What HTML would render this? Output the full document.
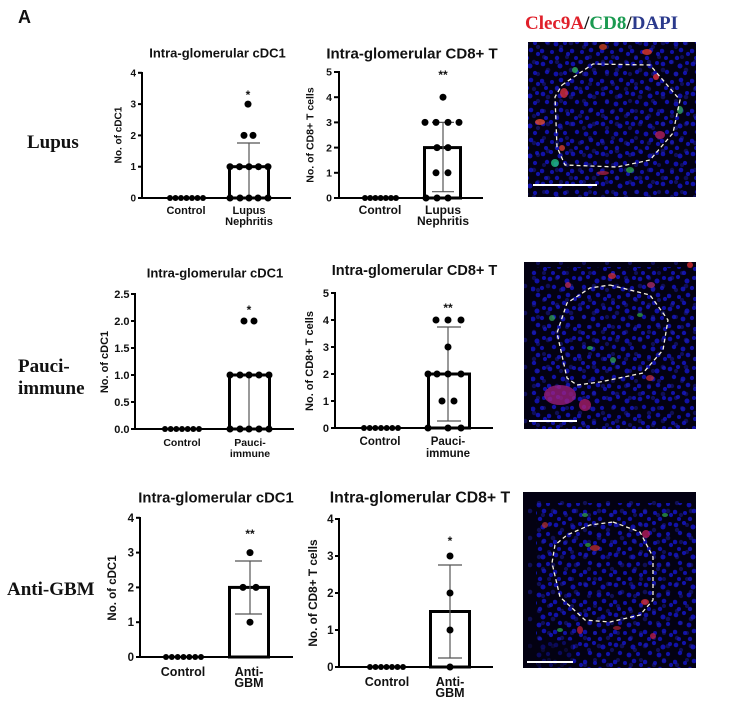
<!DOCTYPE html>
<html><head><meta charset="utf-8"><style>
html,body{margin:0;padding:0;background:#fff;}
svg{display:block;}
.t{font-family:"Liberation Sans",Arial,sans-serif;font-weight:bold;fill:#111;}
.s{font-family:"Liberation Serif","Times New Roman",serif;font-weight:bold;}
</style></head><body>
<svg width="744" height="703" viewBox="0 0 744 703" xmlns="http://www.w3.org/2000/svg">
<defs>
<pattern id="nA" width="30" height="30" patternUnits="userSpaceOnUse">
<g fill="#1414c4">
<circle cx="3" cy="4" r="2.3"/><circle cx="11" cy="2" r="2.1"/><circle cx="20" cy="6" r="2.5"/><circle cx="27" cy="3" r="2"/>
<circle cx="7" cy="12" r="2.2"/><circle cx="16" cy="14" r="2.4"/><circle cx="25" cy="13" r="2.1"/><circle cx="2" cy="21" r="2.3"/>
<circle cx="12" cy="22" r="2"/><circle cx="21" cy="20" r="2.3"/><circle cx="28" cy="24" r="2.1"/><circle cx="6" cy="28" r="2"/><circle cx="17" cy="28" r="2.2"/>
</g></pattern>
<pattern id="nB" width="23" height="27" patternUnits="userSpaceOnUse">
<g fill="#2020a8">
<circle cx="5" cy="8" r="2.2"/><circle cx="15" cy="3" r="2"/><circle cx="19" cy="16" r="2.3"/><circle cx="9" cy="20" r="2.1"/>
</g></pattern>
<clipPath id="c1"><rect x="528" y="42" width="168" height="155"/></clipPath>
<clipPath id="c2"><rect x="524" y="262" width="172" height="167"/></clipPath>
<clipPath id="c3"><rect x="523" y="492" width="173" height="176"/></clipPath>
</defs>

<!-- headings -->
<text class="t" x="18" y="23" font-size="18">A</text>
<text class="s" x="525" y="29" font-size="19"><tspan fill="#e0202a">Clec9A</tspan><tspan fill="#111">/</tspan><tspan fill="#1a9a50">CD8</tspan><tspan fill="#111">/</tspan><tspan fill="#2b3a8c">DAPI</tspan></text>
<text class="s" x="27" y="148" font-size="19" fill="#111">Lupus</text>
<text class="s" x="18" y="372" font-size="19" fill="#111">Pauci-</text>
<text class="s" x="18" y="394" font-size="19" fill="#111">immune</text>
<text class="s" x="7" y="595" font-size="19" fill="#111">Anti-GBM</text>

<!-- ========== Chart 1 ========== -->
<text class="t" x="217.5" y="57.7" font-size="13" text-anchor="middle">Intra-glomerular cDC1</text>
<text class="t" font-size="10" text-anchor="middle" transform="translate(121.5,135) rotate(-90)">No. of cDC1</text>
<g stroke="#000" stroke-width="2">
<line x1="142" y1="72" x2="142" y2="199"/><line x1="141" y1="198" x2="291" y2="198"/>
<line x1="138" y1="72.8" x2="142" y2="72.8"/><line x1="138" y1="104.1" x2="142" y2="104.1"/><line x1="138" y1="135.4" x2="142" y2="135.4"/><line x1="138" y1="166.7" x2="142" y2="166.7"/><line x1="138" y1="198" x2="142" y2="198"/>
</g>
<g class="t" font-size="10" text-anchor="end">
<text x="136" y="76.3">4</text><text x="136" y="107.6">3</text><text x="136" y="138.9">2</text><text x="136" y="170.2">1</text><text x="136" y="201.5">0</text>
</g>
<rect x="229.5" y="166.7" width="39" height="31.3" fill="none" stroke="#000" stroke-width="3"/>
<g stroke="#555" stroke-width="1.2"><line x1="249" y1="143" x2="249" y2="198"/><line x1="237" y1="143" x2="260" y2="143"/></g>
<g fill="#000">
<circle cx="248" cy="104.1" r="3.5"/><circle cx="244" cy="135.4" r="3.5"/><circle cx="253" cy="135.4" r="3.5"/>
<circle cx="230" cy="166.7" r="3.5"/><circle cx="239.5" cy="166.7" r="3.5"/><circle cx="249" cy="166.7" r="3.5"/><circle cx="258.5" cy="166.7" r="3.5"/><circle cx="268" cy="166.7" r="3.5"/>
<circle cx="230" cy="198" r="3.5"/><circle cx="240" cy="198" r="3.5"/><circle cx="249" cy="198" r="3.5"/><circle cx="258" cy="198" r="3.5"/><circle cx="268" cy="198" r="3.5"/>
<circle cx="170" cy="198" r="3"/><circle cx="175.5" cy="198" r="3"/><circle cx="181" cy="198" r="3"/><circle cx="186.5" cy="198" r="3"/><circle cx="192" cy="198" r="3"/><circle cx="197.5" cy="198" r="3"/><circle cx="203" cy="198" r="3"/>
</g>
<text class="t" x="248" y="99" font-size="12" text-anchor="middle">*</text>
<g class="t" font-size="11" text-anchor="middle">
<text x="186" y="214">Control</text><text x="249" y="214">Lupus</text><text x="249" y="225">Nephritis</text>
</g>

<!-- ========== Chart 2 ========== -->
<text class="t" x="412" y="58.4" font-size="15" text-anchor="middle">Intra-glomerular CD8+ T</text>
<text class="t" font-size="10.5" text-anchor="middle" transform="translate(313.5,135) rotate(-90)">No. of CD8+ T cells</text>
<g stroke="#000" stroke-width="2">
<line x1="339" y1="71" x2="339" y2="199"/><line x1="338" y1="198" x2="483" y2="198"/>
<line x1="334" y1="72" x2="339" y2="72"/><line x1="334" y1="97.2" x2="339" y2="97.2"/><line x1="334" y1="122.4" x2="339" y2="122.4"/><line x1="334" y1="147.6" x2="339" y2="147.6"/><line x1="334" y1="172.8" x2="339" y2="172.8"/><line x1="334" y1="198" x2="339" y2="198"/>
</g>
<g class="t" font-size="10.5" text-anchor="end">
<text x="332" y="75.7">5</text><text x="332" y="100.9">4</text><text x="332" y="126.1">3</text><text x="332" y="151.3">2</text><text x="332" y="176.5">1</text><text x="332" y="201.7">0</text>
</g>
<rect x="424.5" y="147.6" width="36" height="50.4" fill="none" stroke="#000" stroke-width="3"/>
<g stroke="#555" stroke-width="1.2"><line x1="443" y1="122.4" x2="443" y2="191.7"/><line x1="432" y1="122.4" x2="454" y2="122.4"/><line x1="432" y1="191.7" x2="454" y2="191.7"/></g>
<g fill="#000">
<circle cx="443" cy="97.2" r="3.5"/>
<circle cx="425" cy="122.4" r="3.5"/><circle cx="436" cy="122.4" r="3.5"/><circle cx="448" cy="122.4" r="3.5"/><circle cx="459" cy="122.4" r="3.5"/>
<circle cx="437" cy="147.6" r="3.5"/><circle cx="448" cy="147.6" r="3.5"/>
<circle cx="436" cy="172.8" r="3.5"/><circle cx="448" cy="172.8" r="3.5"/>
<circle cx="426" cy="198" r="3.5"/><circle cx="437" cy="198" r="3.5"/><circle cx="448" cy="198" r="3.5"/>
<circle cx="365" cy="198" r="3"/><circle cx="370.2" cy="198" r="3"/><circle cx="375.4" cy="198" r="3"/><circle cx="380.6" cy="198" r="3"/><circle cx="385.8" cy="198" r="3"/><circle cx="391" cy="198" r="3"/><circle cx="396" cy="198" r="3"/>
</g>
<text class="t" x="443" y="79" font-size="12" text-anchor="middle">**</text>
<g class="t" font-size="12" text-anchor="middle">
<text x="380" y="214">Control</text><text x="443" y="214">Lupus</text><text x="443" y="225">Nephritis</text>
</g>

<!-- ========== Chart 3 ========== -->
<text class="t" x="215" y="277.7" font-size="13" text-anchor="middle">Intra-glomerular cDC1</text>
<text class="t" font-size="11" text-anchor="middle" transform="translate(108,362) rotate(-90)">No. of cDC1</text>
<g stroke="#000" stroke-width="2">
<line x1="135" y1="293" x2="135" y2="430"/><line x1="134" y1="429" x2="294" y2="429"/>
<line x1="131" y1="294" x2="135" y2="294"/><line x1="131" y1="321" x2="135" y2="321"/><line x1="131" y1="348" x2="135" y2="348"/><line x1="131" y1="375" x2="135" y2="375"/><line x1="131" y1="402" x2="135" y2="402"/><line x1="131" y1="429" x2="135" y2="429"/>
</g>
<g class="t" font-size="11" text-anchor="end">
<text x="129.5" y="297.8">2.5</text><text x="129.5" y="324.8">2.0</text><text x="129.5" y="351.8">1.5</text><text x="129.5" y="378.8">1.0</text><text x="129.5" y="405.8">0.5</text><text x="129.5" y="432.8">0.0</text>
</g>
<rect x="229.5" y="375" width="40" height="54" fill="none" stroke="#000" stroke-width="3"/>
<g stroke="#555" stroke-width="1.2"><line x1="249" y1="375" x2="249" y2="429"/></g>
<g fill="#000">
<circle cx="244" cy="321" r="3.5"/><circle cx="254" cy="321" r="3.5"/>
<circle cx="230" cy="375" r="3.5"/><circle cx="240" cy="375" r="3.5"/><circle cx="249" cy="375" r="3.5"/><circle cx="259" cy="375" r="3.5"/><circle cx="269" cy="375" r="3.5"/>
<circle cx="230" cy="429" r="3.5"/><circle cx="240" cy="429" r="3.5"/><circle cx="249" cy="429" r="3.5"/><circle cx="259" cy="429" r="3.5"/><circle cx="269" cy="429" r="3.5"/>
<circle cx="165" cy="429" r="3"/><circle cx="170.7" cy="429" r="3"/><circle cx="176.3" cy="429" r="3"/><circle cx="182" cy="429" r="3"/><circle cx="187.7" cy="429" r="3"/><circle cx="193.3" cy="429" r="3"/><circle cx="199" cy="429" r="3"/>
</g>
<text class="t" x="249" y="314" font-size="12" text-anchor="middle">*</text>
<g class="t" font-size="10.5" text-anchor="middle">
<text x="182" y="446">Control</text><text x="250" y="446">Pauci-</text><text x="250" y="457">immune</text>
</g>

<!-- ========== Chart 4 ========== -->
<text class="t" x="414.5" y="275.2" font-size="14.5" text-anchor="middle">Intra-glomerular CD8+ T</text>
<text class="t" font-size="11" text-anchor="middle" transform="translate(313,361) rotate(-90)">No. of CD8+ T cells</text>
<g stroke="#000" stroke-width="2">
<line x1="335" y1="292" x2="335" y2="429"/><line x1="334" y1="428" x2="493" y2="428"/>
<line x1="331" y1="293" x2="335" y2="293"/><line x1="331" y1="320" x2="335" y2="320"/><line x1="331" y1="347" x2="335" y2="347"/><line x1="331" y1="374" x2="335" y2="374"/><line x1="331" y1="401" x2="335" y2="401"/><line x1="331" y1="428" x2="335" y2="428"/>
</g>
<g class="t" font-size="11" text-anchor="end">
<text x="329" y="296.8">5</text><text x="329" y="323.8">4</text><text x="329" y="350.8">3</text><text x="329" y="377.8">2</text><text x="329" y="404.8">1</text><text x="329" y="431.8">0</text>
</g>
<rect x="428.5" y="374" width="41" height="54" fill="none" stroke="#000" stroke-width="3"/>
<g stroke="#555" stroke-width="1.2"><line x1="448" y1="327" x2="448" y2="421"/><line x1="437" y1="327" x2="461" y2="327"/><line x1="437" y1="421" x2="461" y2="421"/></g>
<g fill="#000">
<circle cx="436" cy="320" r="3.5"/><circle cx="448" cy="320" r="3.5"/><circle cx="461" cy="320" r="3.5"/>
<circle cx="448" cy="347" r="3.5"/>
<circle cx="428" cy="374" r="3.5"/><circle cx="437" cy="374" r="3.5"/><circle cx="448" cy="374" r="3.5"/><circle cx="461" cy="374" r="3.5"/>
<circle cx="442" cy="401" r="3.5"/><circle cx="454" cy="401" r="3.5"/>
<circle cx="428" cy="428" r="3.5"/><circle cx="448" cy="428" r="3.5"/><circle cx="461" cy="428" r="3.5"/>
<circle cx="364" cy="428" r="3"/><circle cx="369.7" cy="428" r="3"/><circle cx="375.3" cy="428" r="3"/><circle cx="381" cy="428" r="3"/><circle cx="386.7" cy="428" r="3"/><circle cx="392.3" cy="428" r="3"/><circle cx="398" cy="428" r="3"/>
</g>
<text class="t" x="448" y="312" font-size="12" text-anchor="middle">**</text>
<g class="t" font-size="11.5" text-anchor="middle">
<text x="380" y="445">Control</text><text x="448" y="445">Pauci-</text><text x="448" y="457">immune</text>
</g>

<!-- ========== Chart 5 ========== -->
<text class="t" x="216" y="502.3" font-size="14.8" text-anchor="middle">Intra-glomerular cDC1</text>
<text class="t" font-size="11.5" text-anchor="middle" transform="translate(116,588) rotate(-90)">No. of cDC1</text>
<g stroke="#000" stroke-width="2">
<line x1="140" y1="517" x2="140" y2="658"/><line x1="139" y1="657" x2="293" y2="657"/>
<line x1="136" y1="517.8" x2="140" y2="517.8"/><line x1="136" y1="552.6" x2="140" y2="552.6"/><line x1="136" y1="587.4" x2="140" y2="587.4"/><line x1="136" y1="622.2" x2="140" y2="622.2"/><line x1="136" y1="657" x2="140" y2="657"/>
</g>
<g class="t" font-size="11.5" text-anchor="end">
<text x="134" y="521.8">4</text><text x="134" y="556.6">3</text><text x="134" y="591.4">2</text><text x="134" y="626.2">1</text><text x="134" y="661">0</text>
</g>
<rect x="229.5" y="587.4" width="39" height="69.6" fill="none" stroke="#000" stroke-width="3"/>
<g stroke="#555" stroke-width="1.2"><line x1="250" y1="561" x2="250" y2="614"/><line x1="235" y1="561" x2="262" y2="561"/><line x1="235" y1="614" x2="262" y2="614"/></g>
<g fill="#000">
<circle cx="250" cy="552.6" r="3.5"/><circle cx="243" cy="587.4" r="3.5"/><circle cx="256" cy="587.4" r="3.5"/><circle cx="250" cy="622.2" r="3.5"/>
<circle cx="166" cy="657" r="3"/><circle cx="171.8" cy="657" r="3"/><circle cx="177.7" cy="657" r="3"/><circle cx="183.5" cy="657" r="3"/><circle cx="189.3" cy="657" r="3"/><circle cx="195.2" cy="657" r="3"/><circle cx="201" cy="657" r="3"/>
</g>
<text class="t" x="250" y="538" font-size="12" text-anchor="middle">**</text>
<g class="t" font-size="12.5" text-anchor="middle">
<text x="183" y="676">Control</text><text x="249" y="676">Anti-</text><text x="249" y="687">GBM</text>
</g>

<!-- ========== Chart 6 ========== -->
<text class="t" x="420" y="502.7" font-size="15.8" text-anchor="middle">Intra-glomerular CD8+ T</text>
<text class="t" font-size="11.8" text-anchor="middle" transform="translate(317,593) rotate(-90)">No. of CD8+ T cells</text>
<g stroke="#000" stroke-width="2">
<line x1="339" y1="518" x2="339" y2="668"/><line x1="338" y1="667" x2="493" y2="667"/>
<line x1="335" y1="519" x2="339" y2="519"/><line x1="335" y1="556" x2="339" y2="556"/><line x1="335" y1="593" x2="339" y2="593"/><line x1="335" y1="630" x2="339" y2="630"/><line x1="335" y1="667" x2="339" y2="667"/>
</g>
<g class="t" font-size="11.5" text-anchor="end">
<text x="333.5" y="523">4</text><text x="333.5" y="560">3</text><text x="333.5" y="597">2</text><text x="333.5" y="634">1</text><text x="333.5" y="671">0</text>
</g>
<rect x="430.5" y="611.5" width="39" height="55.5" fill="none" stroke="#000" stroke-width="3"/>
<g stroke="#555" stroke-width="1.2"><line x1="450" y1="565" x2="450" y2="658"/><line x1="438" y1="565" x2="462" y2="565"/><line x1="438" y1="658" x2="462" y2="658"/></g>
<g fill="#000">
<circle cx="450" cy="556" r="3.5"/><circle cx="450" cy="593" r="3.5"/><circle cx="450" cy="630" r="3.5"/><circle cx="450" cy="667" r="3.5"/>
<circle cx="370" cy="667" r="3"/><circle cx="375.5" cy="667" r="3"/><circle cx="381" cy="667" r="3"/><circle cx="386.5" cy="667" r="3"/><circle cx="392" cy="667" r="3"/><circle cx="397.5" cy="667" r="3"/><circle cx="403" cy="667" r="3"/>
</g>
<text class="t" x="450" y="545" font-size="12" text-anchor="middle">*</text>
<g class="t" font-size="12.5" text-anchor="middle">
<text x="387" y="686">Control</text><text x="450" y="686">Anti-</text><text x="450" y="697">GBM</text>
</g>

<!-- ========== Images ========== -->
<g clip-path="url(#c1)">
<rect x="528" y="42" width="168" height="155" fill="#030112"/>
<rect x="528" y="42" width="168" height="155" fill="url(#nA)" opacity="0.85"/>
<rect x="528" y="42" width="168" height="155" fill="url(#nB)" opacity="0.45"/>
<g opacity="0.8">
<ellipse cx="647" cy="52" rx="5" ry="3" fill="#e03a30"/><ellipse cx="564" cy="93" rx="4" ry="5" fill="#d83040"/>
<ellipse cx="540" cy="122" rx="5" ry="3" fill="#e04a30"/><ellipse cx="603" cy="47" rx="4" ry="3" fill="#c84020"/>
<ellipse cx="656" cy="77" rx="3" ry="3" fill="#e03040"/><ellipse cx="660" cy="135" rx="5" ry="4" fill="#b02060"/>
<ellipse cx="575" cy="70" rx="3" ry="3" fill="#30b060"/><ellipse cx="555" cy="163" rx="4" ry="4" fill="#20c080"/>
<ellipse cx="603" cy="173" rx="6" ry="2" fill="#a02040"/><ellipse cx="630" cy="170" rx="4" ry="3" fill="#30a040"/>
<ellipse cx="680" cy="110" rx="3" ry="4" fill="#30a050"/><ellipse cx="562" cy="148" rx="3" ry="3" fill="#d04030"/>
</g>
<polyline points="562,85 593,64 650,65 680,100 673,133 650,160 617,167 565,165 557,147 555,97 562,85" fill="none" stroke="#f5f0e0" stroke-width="1.3" stroke-dasharray="4,3"/>
<line x1="533" y1="185" x2="597" y2="185" stroke="#fff" stroke-width="2"/>
</g>

<g clip-path="url(#c2)">
<rect x="524" y="262" width="172" height="167" fill="#030112"/>
<rect x="524" y="262" width="172" height="167" fill="url(#nA)" opacity="0.85" transform="translate(7,5)"/>
<rect x="524" y="262" width="172" height="167" fill="url(#nB)" opacity="0.45"/>
<g opacity="0.75">
<ellipse cx="560" cy="395" rx="16" ry="10" fill="#a02080"/><ellipse cx="585" cy="405" rx="6" ry="6" fill="#b02070"/>
<ellipse cx="612" cy="276" rx="4" ry="3" fill="#d03040"/><ellipse cx="568" cy="285" rx="3" ry="3" fill="#c03060"/>
<ellipse cx="651" cy="285" rx="4" ry="3" fill="#b03070"/><ellipse cx="650" cy="378" rx="4" ry="3" fill="#c03040"/>
<ellipse cx="552" cy="318" rx="3" ry="3" fill="#30a050"/><ellipse cx="590" cy="348" rx="3" ry="2" fill="#30b050"/>
<ellipse cx="613" cy="360" rx="3" ry="3" fill="#30a060"/><ellipse cx="640" cy="315" rx="3" ry="2" fill="#30a040"/>
<ellipse cx="690" cy="265" rx="3" ry="3" fill="#e03030"/>
</g>
<polyline points="610,285 650,295 668,320 663,350 643,373 600,382 577,385 567,378 557,333 567,303 590,288 610,285" fill="none" stroke="#f5f0e0" stroke-width="1.3" stroke-dasharray="4,3"/>
<line x1="529" y1="421" x2="577" y2="421" stroke="#fff" stroke-width="2"/>
</g>

<g clip-path="url(#c3)">
<rect x="523" y="492" width="173" height="176" fill="#030112"/>
<rect x="523" y="492" width="173" height="176" fill="url(#nA)" opacity="0.85" transform="translate(13,11)"/>
<rect x="523" y="492" width="173" height="176" fill="url(#nB)" opacity="0.45" transform="translate(5,9)"/>
<rect x="523" y="640" width="50" height="28" fill="#030112" opacity="0.5"/>
<g opacity="0.75">
<ellipse cx="646" cy="534" rx="4" ry="4" fill="#c02060"/><ellipse cx="595" cy="548" rx="5" ry="3" fill="#c03030"/>
<ellipse cx="645" cy="602" rx="4" ry="3" fill="#e03030"/><ellipse cx="580" cy="630" rx="3" ry="4" fill="#c02040"/>
<ellipse cx="653" cy="636" rx="3" ry="3" fill="#c02050"/><ellipse cx="617" cy="628" rx="4" ry="2" fill="#a02030"/>
<ellipse cx="545" cy="525" rx="3" ry="3" fill="#b03030"/><ellipse cx="585" cy="515" rx="3" ry="2" fill="#30a050"/>
<ellipse cx="588" cy="545" rx="3" ry="2" fill="#30a040"/><ellipse cx="560" cy="630" rx="3" ry="2" fill="#30a050"/>
<ellipse cx="665" cy="515" rx="3" ry="2" fill="#30a050"/>
</g>
<polyline points="613,522 640,532 653,557 653,600 640,615 610,622 585,620 560,597 552,563 555,545 567,535 590,525 613,522" fill="none" stroke="#f5f0e0" stroke-width="1.3" stroke-dasharray="4,3"/>
<line x1="527" y1="662" x2="573" y2="662" stroke="#fff" stroke-width="2"/>
</g>
</svg>
</body></html>
